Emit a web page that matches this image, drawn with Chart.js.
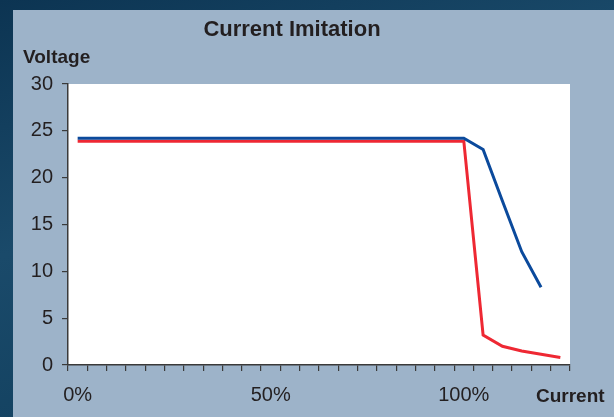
<!DOCTYPE html>
<html>
<head>
<meta charset="utf-8">
<script src="https://cdn.jsdelivr.net/npm/chart.js@4/dist/chart.umd.min.js"></script>
<style>
  html, body { margin: 0; padding: 0; }
  body { width: 614px; height: 417px; overflow: hidden; position: relative;
         background: linear-gradient(160deg, #0c3452 0%, #1a4a6a 40%, #0d3a58 100%); }
  .panel { position: absolute; left: 13px; top: 10px; right: 0; bottom: 0; background: #9db3c9; }
  #chart { position: absolute; left: 0; top: 0; }
</style>
</head>
<body>
<div class="panel"></div>
<canvas id="chart" width="614" height="417"></canvas>
<script>
// categories: current in 5% steps
const currentLabels = ["0%","5%","10%","15%","20%","25%","30%","35%","40%","45%","50%",
  "55%","60%","65%","70%","75%","80%","85%","90%","95%","100%",
  "105%","110%","115%","120%","125%"];
const shownLabels = ["0%", "50%", "100%"];

// voltage values
const blueVoltage = [24.2,24.2,24.2,24.2,24.2,24.2,24.2,24.2,24.2,24.2,24.2,
  24.2,24.2,24.2,24.2,24.2,24.2,24.2,24.2,24.2,24.2,
  23.0,17.5,12.1,8.3];
const redVoltage = [23.9,23.9,23.9,23.9,23.9,23.9,23.9,23.9,23.9,23.9,23.9,
  23.9,23.9,23.9,23.9,23.9,23.9,23.9,23.9,23.9,23.9,
  3.2,2.0,1.5,1.15,0.8];

const TEXT = "#231f20";
const AXIS = "#3a3a3a";

//white plot area plus the free-standing labels
const extras = {
  id: "extras",
  beforeDraw(chart) {
    const { ctx, chartArea: a } = chart;
    ctx.save();
    ctx.fillStyle = "#ffffff";
    ctx.fillRect(a.left, a.top, a.right - a.left, a.bottom - a.top);
    ctx.restore();
  },
  afterDraw(chart) {
    const ctx = chart.ctx;
    ctx.save();
    ctx.fillStyle = TEXT;
    ctx.textBaseline = "middle";
    ctx.font = "bold 22px 'Liberation Sans', Arial, sans-serif";
    ctx.textAlign = "center";
    ctx.fillText("Current Imitation", 292, 30);
    ctx.font = "bold 19px 'Liberation Sans', Arial, sans-serif";
    ctx.textAlign = "left";
    ctx.fillText("Voltage", 23, 58);
    ctx.fillText("Current", 536, 397);
    ctx.restore();
  }
};

new Chart(document.getElementById("chart"), {
  type: "line",
  data: {
    labels: currentLabels,
    datasets: [
      { label: "A", data: blueVoltage, borderColor: "#0b4a9c", borderWidth: 3,
        pointRadius: 0, tension: 0, fill: false },
      { label: "B", data: redVoltage, borderColor: "#ee2833", borderWidth: 3,
        pointRadius: 0, tension: 0, fill: false }
    ]
  },
  options: {
    responsive: false,
    animation: false,
    layout: { padding: { top: 84, right: 44, left: 0, bottom: 0 } },
    plugins: { legend: { display: false }, tooltip: { enabled: false }, title: { display: false } },
    scales: {
      x: {
        type: "category",
        offset: true,
        afterFit(scale) { scale.height = 52; },
        grid: { offset: true, drawOnChartArea: false, tickLength: 6, color: AXIS, lineWidth: 1.2 },
        border: { color: AXIS, width: 1.5 },
        ticks: {
          autoSkip: false, maxRotation: 0, padding: 12,
          color: TEXT, font: { family: "'Liberation Sans', Arial, sans-serif", size: 20 },
          callback(v, i) { const l = currentLabels[i]; return shownLabels.includes(l) ? l : ""; }
        }
      },
      y: {
        min: 0, max: 30,
        afterFit(scale) { scale.width = 68; },
        grid: { drawOnChartArea: false, tickLength: 6, color: AXIS, lineWidth: 1.2 },
        border: { color: AXIS, width: 1.5 },
        ticks: { stepSize: 5, padding: 9, color: TEXT,
          font: { family: "'Liberation Sans', Arial, sans-serif", size: 20 } }
      }
    }
  },
  plugins: [extras]
});
</script>
</body>
</html>
